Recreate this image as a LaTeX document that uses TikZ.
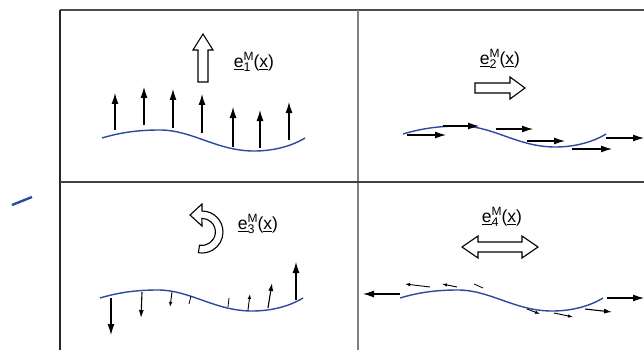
\documentclass[tikz,border=0pt]{standalone}
\usepackage{fontspec}
\setmainfont{Liberation Sans}
\usetikzlibrary{arrows.meta}
\definecolor{wblue}{HTML}{2A4A9E}
\newcommand{\elab}[1]{\fontsize{17.5}{17.5}\selectfont\underline{e}\rlap{\raisebox{-0.45ex}{\fontsize{12.5}{12.5}\selectfont #1}}\raisebox{0.8ex}{\fontsize{12}{12}\selectfont M}(\underline{x})}
\newcommand{\wave}[2]{\draw[wavec] (#1,#2) .. controls +(20,-6) and +(-20,0) .. ++(58,-8) .. controls +(32,0) and +(-37,0) .. ++(94,21) .. controls +(20,0) and +(-13,8) .. ++(51,-13);}
\tikzset{
  wavec/.style={draw=wblue, line width=1.4pt},
  big/.style={line width=1.2pt, -{Latex[length=11pt,width=7pt]}},
  mid/.style={line width=1.1pt, -{Latex[length=8pt,width=5pt]}},
  sml/.style={line width=0.9pt, -{Latex[length=5pt,width=3.5pt]}},
  tiny/.style={line width=0.8pt},
  hollow/.style={draw=black, line width=1.1pt, fill=white, line join=miter},
  lab/.style={inner sep=0pt, anchor=center}
}
\begin{document}
\begin{tikzpicture}[x=1pt,y=-1pt]
\useasboundingbox (0,0) rectangle (644,350);
% grid
\draw[black!70, line width=1.2pt] (60,10) -- (644,10);
\draw[black!85, line width=1.2pt] (60,10) -- (60,350);
\draw[black!50, line width=1.8pt] (358,10) -- (358,350);
\draw[black!75, line width=1.2pt] (60,182) -- (644,182);
% stray blue stroke
\draw[wblue, line width=2.4pt] (12,205) -- (32,197);

% ---- panel 1
\draw[hollow] (198,82) -- (198,50) -- (193,50) -- (203,34) -- (213,50) -- (208,50) -- (208,82) -- cycle;
\node[lab] (l1) at (254,62) {\elab{1}};
\wave{102}{138}
\foreach \x/\a/\b in {115/130/93, 144/125/87, 173/128/89, 202/133/94, 233/147/107, 260/148/110, 289/140/102}
  \draw[big] (\x,\a) -- (\x,\b);

% ---- panel 2
\node[lab] (l2) at (500,59) {\elab{2}};
\draw[hollow] (475,83) -- (510,83) -- (510,77) -- (525,88) -- (510,99) -- (510,93) -- (475,93) -- cycle;
\wave{403}{134}
\draw[big] (407,135) -- (446,135);
\draw[big] (443,126) -- (479,126);
\draw[big] (496,129) -- (533,129);
\draw[big] (527,141) -- (565,141);
\draw[big] (572,149) -- (612,149);
\draw[big] (606,138) -- (644,138);

% ---- panel 3
\draw[hollow] (190,215) -- (202,204) -- (202,211) arc[start angle=-90, end angle=100, radius=21]
  -- ++(1.2,-7.5) arc[start angle=100, end angle=-90, radius=13.5] -- (202,226) -- cycle;
\node[lab] (l3) at (258,224) {\elab{3}};
\wave{100}{298}
\draw[big] (111,298) -- (111,335);
\draw[mid] (142,292) -- (141,318);
\draw[sml] (172,292) -- (170,307);
\draw[tiny] (191,296) -- (189,304);
\draw[tiny] (228,307) -- (229,298);
\draw[sml] (248,310) -- (250,294);
\draw[mid] (268,308) -- (272,283);
\draw[big] (296,300) -- (296,262);

% ---- panel 4
\node[lab] (l4) at (502,217) {\elab{4}};
\draw[hollow] (462,247) -- (478,236) -- (478,242) -- (522,242) -- (522,236) -- (538,247) -- (522,258) -- (522,252) -- (478,252) -- (478,258) -- cycle;
\wave{400}{298}
\draw[big] (400,294) -- (363,294);
\draw[sml] (430,287) -- (405,284);
\draw[sml] (457,287) -- (442,284);
\draw[tiny] (483,288) -- (474,284);
\draw[sml] (527,309) -- (540,314);
\draw[sml] (554,313) -- (573,317);
\draw[mid] (585,309) -- (612,312);
\draw[big] (607,298) -- (644,298);
\end{tikzpicture}
\end{document}
